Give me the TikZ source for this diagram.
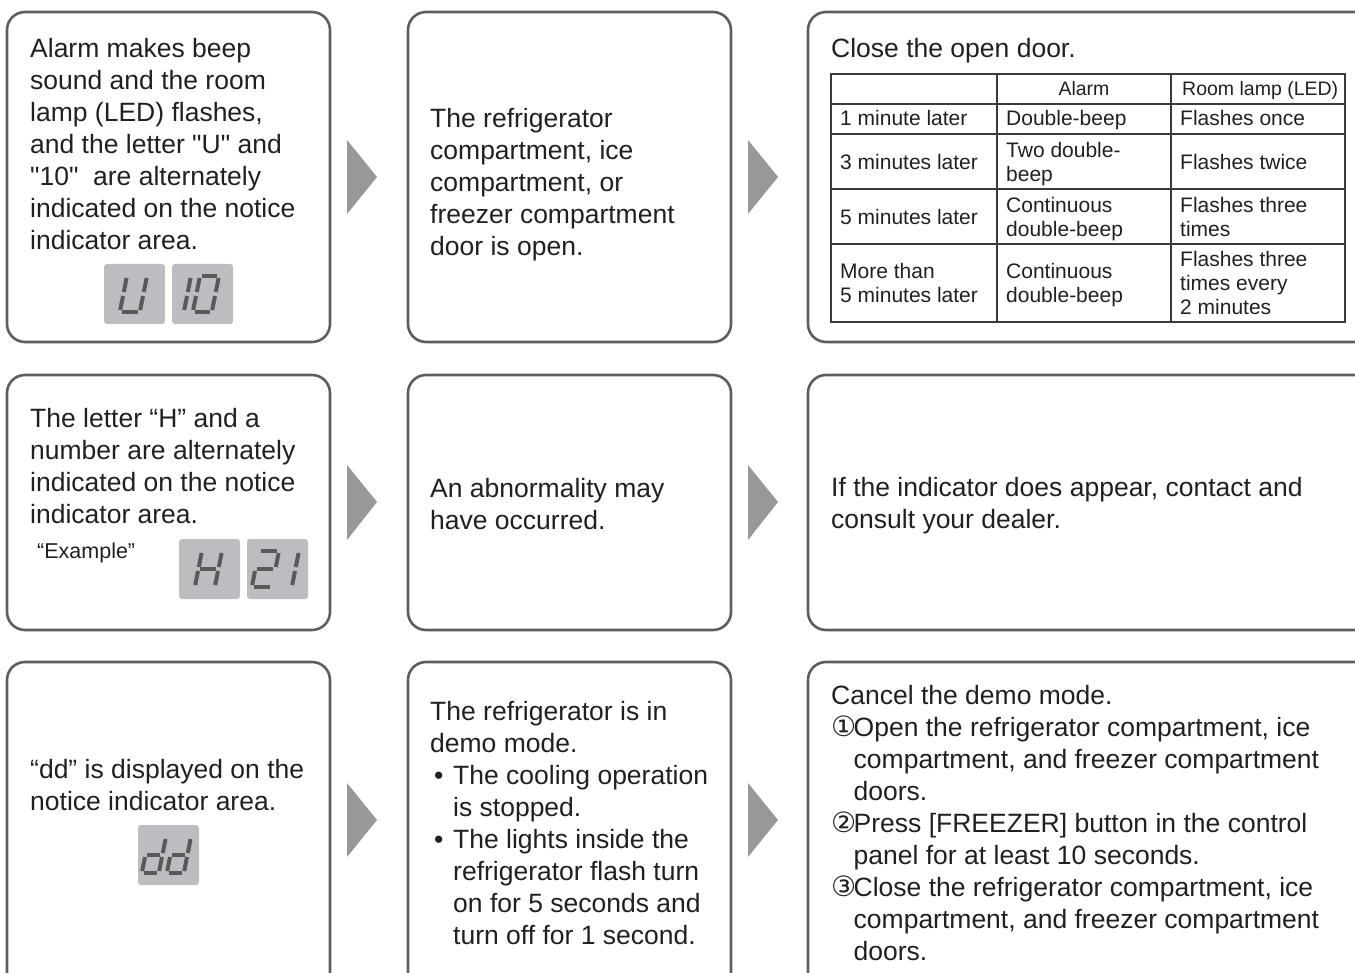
\documentclass[tikz,border=0pt]{standalone}
\usepackage{fontspec}
\setmainfont{Liberation Sans}[Ligatures=TeXOff]
\newfontfamily\dejavu{DejaVu Sans}
\definecolor{bordercol}{HTML}{5E5E5E}
\definecolor{textcol}{HTML}{231F20}
\definecolor{lcdbg}{HTML}{BCBDC0}
\definecolor{segcol}{HTML}{58595B}
\definecolor{arrcol}{HTML}{97989A}
\definecolor{tabcol}{HTML}{3A3A3A}
\tikzset{
 boxst/.style={draw=bordercol, line width=2.6pt, rounded corners=18pt, inner sep=0pt},
 txt/.style={anchor=north west, inner sep=0pt, align=left, text=textcol, font=\fontsize{26.5}{32}\selectfont},
 tcell/.style={anchor=west, inner sep=0pt, align=left, text=textcol, font=\fontsize{21}{24}\selectfont},
 thead/.style={inner sep=0pt, align=left, text=textcol, font=\fontsize{19.5}{24}\selectfont},
 lcd/.style={fill=lcdbg, rounded corners=3pt, inner sep=0pt, minimum width=61pt, minimum height=60pt},
 segstyle/.style={line width=4pt, draw=segcol},
 arrowtri/.style={fill=arrcol},
 tabline/.style={draw=tabcol, line width=1.3pt}
}
\newcommand\dsega{\draw[segstyle] (2,0)--(\W-2,0);}
\newcommand\dsegb{\draw[segstyle] (\W,2)--(\W,16);}
\newcommand\dsegc{\draw[segstyle] (\W,20)--(\W,34);}
\newcommand\dsegd{\draw[segstyle] (2,36)--(\W-2,36);}
\newcommand\dsege{\draw[segstyle] (0,20)--(0,34);}
\newcommand\dsegf{\draw[segstyle] (0,2)--(0,16);}
\newcommand\dsegg{\draw[segstyle] (2,18)--(\W-2,18);}
\newcommand\digitat[4]{%
 \begin{scope}[shift={(#1,#2)}, xslant=0.2]
  \def\W{#3}
  \foreach \s in {#4} {\csname dseg\s\endcsname}
 \end{scope}}
\newcommand\cnum[1]{\makebox[22.5pt][l]{\dejavu\fontsize{28}{32}\selectfont #1}}
\begin{document}
\begin{tikzpicture}[x=1pt,y=-1pt]
\useasboundingbox (0,0) rectangle (1355,973);
\begin{scope}
\clip (0,0) rectangle (1355,973);

% boxes
\node[boxst, minimum width=323pt, minimum height=330pt] (b11) at (168.5,177) {};
\node[boxst, minimum width=323pt, minimum height=330pt] (b12) at (569.5,177) {};
\node[boxst, minimum width=572pt, minimum height=330pt] (b13) at (1094,177) {};
\node[boxst, minimum width=323pt, minimum height=255pt] (b21) at (168.5,502.5) {};
\node[boxst, minimum width=323pt, minimum height=255pt] (b22) at (569.5,502.5) {};
\node[boxst, minimum width=572pt, minimum height=255pt] (b23) at (1094,502.5) {};
\node[boxst, minimum width=323pt, minimum height=338pt] (b31) at (168.5,831) {};
\node[boxst, minimum width=323pt, minimum height=338pt] (b32) at (569.5,831) {};
\node[boxst, minimum width=572pt, minimum height=338pt] (b33) at (1094,831) {};

% arrows
\fill[arrowtri] (347,140)--(377,177)--(347,214)--cycle;
\fill[arrowtri] (748,140)--(778,177)--(748,214)--cycle;
\fill[arrowtri] (347,465)--(377,502)--(347,540)--cycle;
\fill[arrowtri] (748,465)--(778,502)--(748,540)--cycle;
\fill[arrowtri] (347,783)--(377,820)--(347,857)--cycle;
\fill[arrowtri] (748,783)--(778,820)--(748,857)--cycle;

% row 1
\node[txt] (t11) at (30,34.6) {\strut Alarm makes beep\\sound and the room\\lamp (LED) flashes,\\and the letter "U" and\\"10"\ \ are alternately\\indicated on the notice\\indicator area.};
\node[lcd] (lcdU) at (134.5,294) {};
\node[lcd] (lcd10) at (202.5,294) {};
\digitat{127}{276}{20}{b,c,d,e,f}
\digitat{191}{276}{0}{b,c}
\digitat{200}{276}{19}{a,b,c,d,e,f}

\node[txt] (t12) at (430,104.6) {\strut The refrigerator\\compartment, ice\\compartment, or\\freezer compartment\\door is open.};

\node[txt] (t13) at (831,34.6) {\strut Close the open door.};

% table
\draw[tabline] (831,74) rectangle (1345,322);
\draw[tabline] (831,104)--(1345,104);
\draw[tabline] (831,134)--(1345,134);
\draw[tabline] (831,189)--(1345,189);
\draw[tabline] (831,244)--(1345,244);
\draw[tabline] (997,74)--(997,322);
\draw[tabline] (1171,74)--(1171,322);
\node[thead, anchor=center] (h2) at (1084,90.5) {\strut Alarm};
\node[thead, anchor=west] (h3) at (1182,90.5) {\strut Room lamp (LED)};
\node[tcell] (c11) at (840,121) {\strut 1 minute later\strut};
\node[tcell] (c12) at (1006,121) {\strut Double-beep\strut};
\node[tcell] (c13) at (1180,121) {\strut Flashes once\strut};
\node[tcell] (c21) at (840,165) {\strut 3 minutes later\strut};
\node[tcell] (c22) at (1006,165) {\strut Two double-\\beep\strut};
\node[tcell] (c23) at (1180,165) {\strut Flashes twice\strut};
\node[tcell] (c31) at (840,220) {\strut 5 minutes later\strut};
\node[tcell] (c32) at (1006,220) {\strut Continuous\\double-beep\strut};
\node[tcell] (c33) at (1180,220) {\strut Flashes three\\times\strut};
\node[tcell] (c41) at (840,286) {\strut More than\\5 minutes later\strut};
\node[tcell] (c42) at (1006,286) {\strut Continuous\\double-beep\strut};
\node[tcell] (c43) at (1180,286) {\strut Flashes three\\times every\\2 minutes\strut};

% row 2
\node[txt] (t21) at (30,404.6) {\strut The letter “H” and a\\number are alternately\\indicated on the notice\\indicator area.};
\node[inner sep=0pt, anchor=base west, text=textcol, font=\fontsize{21.5}{24}\selectfont] (ex) at (37,558) {“Example”};
\node[lcd] (lcdH) at (209.5,569) {};
\node[lcd] (lcd21) at (277.5,569) {};
\digitat{202}{551}{20}{b,c,e,f,g}
\digitat{259}{551}{20}{a,b,g,e,d}
\digitat{299}{551}{0}{b,c}

\node[txt] (t22) at (430,474.6) {\strut An abnormality may\\have occurred.};
\node[txt] (t23) at (831,473.6) {\strut If the indicator does appear, contact and\\consult your dealer.};

% row 3
\node[txt] (t31) at (30,755.6) {\strut “dd” is displayed on the\\notice indicator area.};
\node[lcd] (lcddd) at (168.5,855) {};
\digitat{149}{837}{17}{b,c,d,e,g}
\digitat{174}{837}{17}{b,c,d,e,g}

\node[txt] (t32) at (430,697.6) {\strut The refrigerator is in\\demo mode.\\\makebox[23pt][l]{\hspace{4pt}•}The cooling operation\\\hspace*{23pt}is stopped.\\\makebox[23pt][l]{\hspace{4pt}•}The lights inside the\\\hspace*{23pt}refrigerator flash turn\\\hspace*{23pt}on for 5 seconds and\\\hspace*{23pt}turn off for 1 second.};

\node[txt] (t33) at (831,681.6) {\strut Cancel the demo mode.\\\cnum{①}Open the refrigerator compartment, ice\\\hspace*{22.5pt}compartment, and freezer compartment\\\hspace*{22.5pt}doors.\\\cnum{②}Press [FREEZER] button in the control\\\hspace*{22.5pt}panel for at least 10 seconds.\\\cnum{③}Close the refrigerator compartment, ice\\\hspace*{22.5pt}compartment, and freezer compartment\\\hspace*{22.5pt}doors.};
\end{scope}
\end{tikzpicture}
\end{document}
